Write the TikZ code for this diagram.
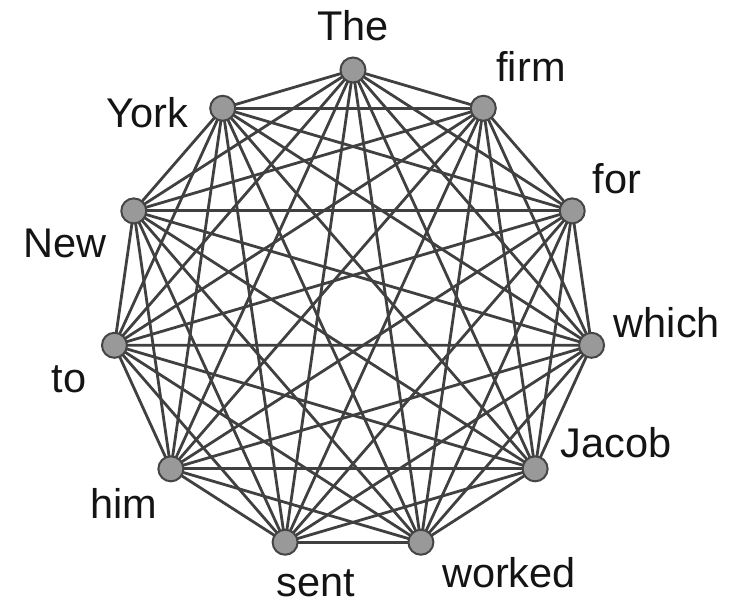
\documentclass[tikz,border=0pt]{standalone}
\usepackage{fontspec}
\setmainfont{Liberation Sans}
\usetikzlibrary{backgrounds}
\begin{document}
\begin{tikzpicture}[x=1pt,y=-1pt,
  vert/.style={circle,draw=black!73,fill=black!40,line width=2pt,minimum size=25pt,inner sep=0pt},
  lbl/.style={anchor=base,font=\fontsize{41.5}{41.5}\selectfont,text=black!92,inner sep=0pt},
  edge/.style={draw=black!75,line width=2.8pt}]
\useasboundingbox (0,0) rectangle (749,607);
\foreach \k in {0,...,10}{
  \pgfmathsetmacro{\ang}{90-\k*360/11}
  \node[vert] (v\k) at ({353+241*cos(\ang)},{311-241*sin(\ang)}) {};
}
\begin{pgfonlayer}{background}
\foreach \i in {0,...,9}{
  \pgfmathtruncatemacro{\s}{\i+1}
  \foreach \j in {\s,...,10}{
    \draw[edge] (v\i.center) -- (v\j.center);
  }
}
\end{pgfonlayer}
\node[lbl] (lThe) at (353,41) {The};
\node[lbl] (lfirm) at (531,82) {firm};
\node[lbl] (lfor) at (617,193) {for};
\node[lbl] (lwhich) at (667,337) {which};
\node[lbl] (lJacob) at (616,457) {Jacob};
\node[lbl] (lworked) at (509,587) {worked};
\node[lbl] (lsent) at (316,596) {sent};
\node[lbl] (lhim) at (124,518) {him};
\node[lbl] (lto) at (69,392) {to};
\node[lbl] (lNew) at (65,257) {New};
\node[lbl] (lYork) at (147,128) {York};
\end{tikzpicture}
\end{document}
